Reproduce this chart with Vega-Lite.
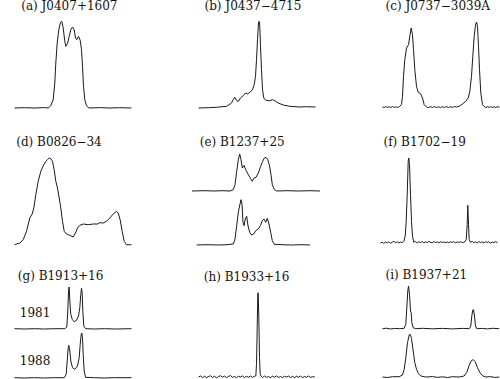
{
"$schema": "https://vega.github.io/schema/vega-lite/v6.json",
"padding": {"left": 12.5, "top": 0, "right": 0, "bottom": 0},
"background": "white",
"spacing": 26,
"config": {
  "view": {"stroke": null},
  "title": {"font": "DejaVu Serif", "fontSize": 12, "fontWeight": "normal", "anchor": "start", "color": "#111", "offset": 2, "baseline": "alphabetic"},
  "line": {"color": "#1a1a1a", "strokeWidth": 1}
},
"datasets": {
  "a": [{"phase":0,"flux":0},{"phase":10,"flux":0.3},{"phase":20,"flux":0},{"phase":30,"flux":0.4},{"phase":33.7,"flux":0},{"phase":36.3,"flux":2.3},{"phase":38.7,"flux":8.3},{"phase":40.3,"flux":25},{"phase":41.3,"flux":45},{"phase":42.7,"flux":65},{"phase":44.3,"flux":78.3},{"phase":46,"flux":85.7},{"phase":47.3,"flux":86.7},{"phase":48.7,"flux":80},{"phase":50.3,"flux":66.7},{"phase":51.3,"flux":61.7},{"phase":53,"flux":64.3},{"phase":54.7,"flux":71.7},{"phase":56.3,"flux":78.3},{"phase":58,"flux":81},{"phase":59.7,"flux":78.3},{"phase":61,"flux":70},{"phase":62.3,"flux":68.3},{"phase":64,"flux":71.7},{"phase":65.7,"flux":67.7},{"phase":67,"flux":58.3},{"phase":68,"flux":41.7},{"phase":69,"flux":21.7},{"phase":70.3,"flux":8.3},{"phase":72,"flux":2.3},{"phase":74.3,"flux":0},{"phase":85,"flux":0.4},{"phase":95,"flux":0},{"phase":105,"flux":0.3},{"phase":117,"flux":0}],
  "b": [{"phase":0,"flux":0},{"phase":10,"flux":0.3},{"phase":18,"flux":0.7},{"phase":28,"flux":1.7},{"phase":33,"flux":5},{"phase":34.7,"flux":8.3},{"phase":36.3,"flux":10.7},{"phase":38,"flux":7.7},{"phase":39.7,"flux":6.3},{"phase":42,"flux":10},{"phase":44.7,"flux":12.3},{"phase":47,"flux":15},{"phase":49,"flux":14},{"phase":51.3,"flux":15.7},{"phase":54,"flux":18.3},{"phase":55.7,"flux":23.3},{"phase":57,"flux":31.7},{"phase":58,"flux":48.3},{"phase":59,"flux":68.3},{"phase":60,"flux":85},{"phase":60.7,"flux":86.7},{"phase":61.3,"flux":81.7},{"phase":62,"flux":61.7},{"phase":63,"flux":38.3},{"phase":64,"flux":18.3},{"phase":65.3,"flux":10},{"phase":67.3,"flux":7.7},{"phase":71.3,"flux":7.3},{"phase":74,"flux":8.3},{"phase":76.3,"flux":7.3},{"phase":79.7,"flux":5},{"phase":84.7,"flux":3},{"phase":91.3,"flux":1.7},{"phase":101.3,"flux":1},{"phase":108,"flux":1.3},{"phase":117,"flux":1}],
  "c": [{"phase":0,"flux":1},{"phase":1.7,"flux":0.5},{"phase":3.3,"flux":1.4},{"phase":5,"flux":0.6},{"phase":6.7,"flux":1.3},{"phase":8.3,"flux":0.4},{"phase":10,"flux":1.5},{"phase":11.7,"flux":0.6},{"phase":13.3,"flux":1.2},{"phase":15,"flux":0.5},{"phase":16.7,"flux":1.3},{"phase":19,"flux":3.3},{"phase":20,"flux":11.7},{"phase":21,"flux":31.7},{"phase":22.3,"flux":48.3},{"phase":24,"flux":60},{"phase":26,"flux":63.3},{"phase":27.3,"flux":71.7},{"phase":28.7,"flux":80},{"phase":30,"flux":73.3},{"phase":31,"flux":58.3},{"phase":32.3,"flux":38.3},{"phase":34,"flux":21.7},{"phase":35.7,"flux":15.7},{"phase":38,"flux":14.3},{"phase":40,"flux":10},{"phase":41.7,"flux":3.3},{"phase":44,"flux":1},{"phase":46,"flux":0.4},{"phase":48,"flux":1.3},{"phase":50,"flux":0.6},{"phase":52,"flux":1.4},{"phase":54,"flux":0.5},{"phase":56,"flux":1.2},{"phase":58,"flux":0.4},{"phase":60,"flux":1.3},{"phase":62,"flux":0.6},{"phase":64,"flux":1.4},{"phase":66,"flux":0.5},{"phase":68,"flux":1.2},{"phase":70,"flux":0.6},{"phase":72,"flux":1.5},{"phase":74,"flux":1},{"phase":76.7,"flux":1.7},{"phase":80,"flux":4},{"phase":83.3,"flux":6.7},{"phase":85.7,"flux":10},{"phase":87.3,"flux":16.7},{"phase":89,"flux":31.7},{"phase":90.3,"flux":51.7},{"phase":91.7,"flux":71.7},{"phase":93,"flux":83.3},{"phase":94,"flux":86},{"phase":95,"flux":81.7},{"phase":96,"flux":61.7},{"phase":97,"flux":38.3},{"phase":98.3,"flux":15},{"phase":100,"flux":3.3},{"phase":101.7,"flux":1.4},{"phase":103.3,"flux":0.5},{"phase":105,"flux":1.3},{"phase":106.7,"flux":0.6},{"phase":108.3,"flux":1.4},{"phase":110,"flux":0.5},{"phase":111.7,"flux":1.2},{"phase":113.3,"flux":0.4},{"phase":115,"flux":1.3},{"phase":117,"flux":0.8}],
  "d": [{"phase":0,"flux":0.3},{"phase":5.3,"flux":2},{"phase":8.7,"flux":5.3},{"phase":12,"flux":13.7},{"phase":15.3,"flux":27},{"phase":17.7,"flux":31},{"phase":19.3,"flux":37},{"phase":21.3,"flux":50.3},{"phase":23.7,"flux":63.7},{"phase":26.3,"flux":73.7},{"phase":29.3,"flux":80.3},{"phase":31.3,"flux":83.7},{"phase":33,"flux":85.3},{"phase":34.7,"flux":87},{"phase":36.3,"flux":86.3},{"phase":38,"flux":83.7},{"phase":39.7,"flux":75.3},{"phase":41.3,"flux":63.7},{"phase":43,"flux":57},{"phase":44.7,"flux":47},{"phase":46.3,"flux":37},{"phase":48,"flux":23.7},{"phase":49.7,"flux":13.7},{"phase":52,"flux":11},{"phase":55.3,"flux":9.7},{"phase":58.7,"flux":8},{"phase":61,"flux":12},{"phase":63,"flux":17},{"phase":65.3,"flux":19.7},{"phase":68.7,"flux":21},{"phase":73.7,"flux":20.3},{"phase":78.7,"flux":21},{"phase":83,"flux":21},{"phase":85.3,"flux":22.3},{"phase":88.7,"flux":22},{"phase":92,"flux":23.7},{"phase":95.3,"flux":27},{"phase":98.7,"flux":31},{"phase":102,"flux":33.7},{"phase":103.7,"flux":32},{"phase":105.7,"flux":25},{"phase":107.7,"flux":13.7},{"phase":109.7,"flux":3.7},{"phase":112,"flux":0.3},{"phase":117,"flux":0.3}],
  "e1": [{"phase":0,"flux":0},{"phase":12,"flux":0.3},{"phase":23,"flux":0},{"phase":30,"flux":0.3},{"phase":38,"flux":0},{"phase":41.3,"flux":1.3},{"phase":43,"flux":6.3},{"phase":44.7,"flux":19.7},{"phase":46.3,"flux":31.3},{"phase":47.7,"flux":37},{"phase":49,"flux":31.3},{"phase":50.3,"flux":23},{"phase":52,"flux":25.7},{"phase":53.7,"flux":21.3},{"phase":56.3,"flux":16.3},{"phase":58.7,"flux":12.3},{"phase":60.3,"flux":9.7},{"phase":62,"flux":13},{"phase":64,"flux":13.7},{"phase":66.3,"flux":18},{"phase":68.7,"flux":24.7},{"phase":70.7,"flux":29.7},{"phase":72.3,"flux":33},{"phase":74,"flux":33.7},{"phase":75.7,"flux":31.3},{"phase":77.3,"flux":26.3},{"phase":79,"flux":16.3},{"phase":80.3,"flux":6.3},{"phase":82.3,"flux":1.3},{"phase":84.7,"flux":0},{"phase":95,"flux":0.3},{"phase":106.3,"flux":0},{"phase":118,"flux":0.3},{"phase":128,"flux":0}],
  "e2": [{"phase":4.7,"flux":0},{"phase":15,"flux":0.3},{"phase":26.3,"flux":0},{"phase":35,"flux":0.3},{"phase":41.3,"flux":1},{"phase":43,"flux":6},{"phase":44.7,"flux":19.3},{"phase":46.3,"flux":32.7},{"phase":48,"flux":41},{"phase":49,"flux":45.3},{"phase":50,"flux":41},{"phase":51,"flux":22.7},{"phase":52,"flux":19.3},{"phase":53.3,"flux":26},{"phase":54.7,"flux":28.7},{"phase":56,"flux":19.3},{"phase":57.7,"flux":12.7},{"phase":59.7,"flux":10},{"phase":61.7,"flux":11},{"phase":63.7,"flux":14.3},{"phase":66.3,"flux":16},{"phase":68.3,"flux":19.3},{"phase":70.3,"flux":24.3},{"phase":72,"flux":26},{"phase":73.7,"flux":22.7},{"phase":75.3,"flux":26.7},{"phase":77,"flux":21},{"phase":78.7,"flux":12.7},{"phase":80.3,"flux":4.3},{"phase":82.3,"flux":0.7},{"phase":90,"flux":0.3},{"phase":99.7,"flux":0},{"phase":110,"flux":0.3},{"phase":118,"flux":0}],
  "f": [{"phase":0,"flux":2},{"phase":1.7,"flux":2.8},{"phase":3.3,"flux":1.6},{"phase":5,"flux":3.1},{"phase":6.7,"flux":2},{"phase":8.3,"flux":3.4},{"phase":10,"flux":1.7},{"phase":11.7,"flux":2.8},{"phase":13.3,"flux":3.7},{"phase":15,"flux":2.3},{"phase":16.7,"flux":3.3},{"phase":18.3,"flux":2},{"phase":20,"flux":3},{"phase":21.7,"flux":2.3},{"phase":23.3,"flux":3.7},{"phase":24.7,"flux":8.7},{"phase":25.7,"flux":23.7},{"phase":26.7,"flux":50},{"phase":27.7,"flux":83.7},{"phase":28.3,"flux":87},{"phase":29,"flux":80.3},{"phase":30,"flux":50.3},{"phase":31,"flux":23.7},{"phase":32,"flux":8.7},{"phase":33.3,"flux":2.7},{"phase":35,"flux":3.7},{"phase":36.7,"flux":2},{"phase":38.3,"flux":3.3},{"phase":40,"flux":2.4},{"phase":41.7,"flux":3.5},{"phase":43.3,"flux":2.1},{"phase":45,"flux":3.2},{"phase":46.7,"flux":2.5},{"phase":48.3,"flux":3.6},{"phase":50,"flux":2.7},{"phase":51.7,"flux":2.2},{"phase":53.3,"flux":3.4},{"phase":55,"flux":2.6},{"phase":56.7,"flux":3.1},{"phase":58.3,"flux":2.2},{"phase":60,"flux":3.3},{"phase":61.7,"flux":2.6},{"phase":63.3,"flux":3},{"phase":65,"flux":2.3},{"phase":66.7,"flux":3},{"phase":68.3,"flux":2.4},{"phase":70,"flux":3.2},{"phase":71.7,"flux":2.6},{"phase":73.3,"flux":3.4},{"phase":75,"flux":2.2},{"phase":76.7,"flux":3.1},{"phase":78.3,"flux":2.5},{"phase":80,"flux":3.3},{"phase":81.7,"flux":2.4},{"phase":83.3,"flux":2.7},{"phase":84.7,"flux":3.5},{"phase":85.7,"flux":5.3},{"phase":86.7,"flux":20.3},{"phase":87.3,"flux":39.7},{"phase":88,"flux":20.3},{"phase":88.7,"flux":5.3},{"phase":90,"flux":2.7},{"phase":91.7,"flux":3.6},{"phase":93.3,"flux":2.3},{"phase":95,"flux":3.2},{"phase":96.7,"flux":1.9},{"phase":98.3,"flux":3.5},{"phase":100,"flux":2.4},{"phase":101.7,"flux":3.1},{"phase":103.3,"flux":2},{"phase":105,"flux":3.4},{"phase":106.7,"flux":2.5},{"phase":108.3,"flux":3.3},{"phase":110,"flux":1.8},{"phase":111.7,"flux":3},{"phase":113.3,"flux":2.4},{"phase":115,"flux":3.3},{"phase":117,"flux":2.5}],
  "g1": [{"phase":0,"flux":0.3},{"phase":10,"flux":0},{"phase":20,"flux":0.3},{"phase":30,"flux":0},{"phase":40,"flux":0.3},{"phase":50.3,"flux":0.3},{"phase":52.3,"flux":2},{"phase":53.3,"flux":18},{"phase":54,"flux":38},{"phase":54.7,"flux":42},{"phase":55.3,"flux":28},{"phase":56.3,"flux":14.7},{"phase":57.7,"flux":9.7},{"phase":59.7,"flux":7.3},{"phase":62,"flux":8.7},{"phase":64,"flux":13},{"phase":65.3,"flux":21.3},{"phase":66.3,"flux":34.7},{"phase":67,"flux":40.7},{"phase":67.7,"flux":36.3},{"phase":68.3,"flux":18},{"phase":69.3,"flux":3},{"phase":71,"flux":0.3},{"phase":80,"flux":0},{"phase":90,"flux":0.3},{"phase":100,"flux":0},{"phase":117,"flux":0.3}],
  "g2": [{"phase":0,"flux":0.3},{"phase":10,"flux":0},{"phase":20,"flux":0.3},{"phase":30,"flux":0},{"phase":40,"flux":0.3},{"phase":49.7,"flux":0.3},{"phase":51.7,"flux":3.7},{"phase":52.7,"flux":17},{"phase":53.7,"flux":30.3},{"phase":54.3,"flux":32.7},{"phase":55.3,"flux":27},{"phase":56.3,"flux":17},{"phase":58,"flux":10.3},{"phase":60.3,"flux":8.7},{"phase":63,"flux":12},{"phase":64.7,"flux":20.3},{"phase":65.7,"flux":33.7},{"phase":66.7,"flux":43.7},{"phase":67.3,"flux":45},{"phase":68,"flux":40.3},{"phase":68.7,"flux":23.7},{"phase":69.7,"flux":7},{"phase":71,"flux":0.7},{"phase":80,"flux":0.3},{"phase":90,"flux":0},{"phase":100,"flux":0.3},{"phase":117,"flux":0.3}],
  "h": [{"phase":0,"flux":1},{"phase":2,"flux":2},{"phase":4,"flux":0.5},{"phase":6,"flux":1.8},{"phase":8,"flux":0.3},{"phase":10,"flux":1.5},{"phase":12,"flux":2.2},{"phase":14,"flux":0.6},{"phase":16,"flux":1.7},{"phase":18,"flux":0.2},{"phase":20,"flux":1.4},{"phase":22,"flux":2.3},{"phase":24,"flux":0.8},{"phase":26,"flux":1.9},{"phase":28,"flux":0.4},{"phase":30,"flux":1.6},{"phase":32,"flux":2.4},{"phase":34,"flux":0.7},{"phase":36,"flux":1.5},{"phase":38,"flux":0.3},{"phase":40,"flux":1.8},{"phase":42,"flux":0.9},{"phase":44,"flux":2.1},{"phase":46,"flux":0.5},{"phase":48,"flux":1.6},{"phase":50,"flux":0.8},{"phase":52,"flux":2},{"phase":54,"flux":0.6},{"phase":56,"flux":1.7},{"phase":57.3,"flux":2},{"phase":58,"flux":13.7},{"phase":58.7,"flux":50.3},{"phase":59.3,"flux":83.7},{"phase":59.7,"flux":85.3},{"phase":60.3,"flux":60.3},{"phase":61,"flux":20.3},{"phase":61.7,"flux":3.7},{"phase":62.7,"flux":1.7},{"phase":64,"flux":0.5},{"phase":66,"flux":1.9},{"phase":68,"flux":0.7},{"phase":70,"flux":1.4},{"phase":72,"flux":0.3},{"phase":74,"flux":1.8},{"phase":76,"flux":0.8},{"phase":78,"flux":2.1},{"phase":80,"flux":0.6},{"phase":82,"flux":1.5},{"phase":84,"flux":0.4},{"phase":86,"flux":1.7},{"phase":88,"flux":0.9},{"phase":90,"flux":2},{"phase":92,"flux":0.5},{"phase":94,"flux":1.6},{"phase":96,"flux":0.3},{"phase":98,"flux":1.8},{"phase":100,"flux":0.8},{"phase":102,"flux":1.9},{"phase":104,"flux":0.4},{"phase":106,"flux":1.5},{"phase":108,"flux":0.7},{"phase":110,"flux":2},{"phase":112,"flux":0.6},{"phase":114,"flux":1.4},{"phase":116.3,"flux":0.9}],
  "i1": [{"phase":0,"flux":0.3},{"phase":4,"flux":0.8},{"phase":8,"flux":0},{"phase":12,"flux":0.6},{"phase":16.7,"flux":0.3},{"phase":21.7,"flux":0.7},{"phase":23.3,"flux":4.7},{"phase":24.3,"flux":21.3},{"phase":25.3,"flux":38},{"phase":26,"flux":43},{"phase":27,"flux":34.7},{"phase":28,"flux":18},{"phase":28.7,"flux":16.3},{"phase":29.3,"flux":6.3},{"phase":30.7,"flux":1.3},{"phase":33.3,"flux":0.3},{"phase":40,"flux":0.7},{"phase":50,"flux":0.2},{"phase":60,"flux":0.6},{"phase":70,"flux":0.1},{"phase":80,"flux":0.6},{"phase":86.7,"flux":0.3},{"phase":88.3,"flux":3},{"phase":89.3,"flux":13},{"phase":90.3,"flux":19},{"phase":91,"flux":19.3},{"phase":92,"flux":13},{"phase":93,"flux":3},{"phase":94.3,"flux":0.3},{"phase":100,"flux":0.6},{"phase":105,"flux":0.1},{"phase":110,"flux":0.7},{"phase":116.7,"flux":0.3}],
  "i2": [{"phase":0,"flux":1},{"phase":5,"flux":0.5},{"phase":10,"flux":1.3},{"phase":16.7,"flux":1.3},{"phase":20,"flux":3},{"phase":21.7,"flux":8.7},{"phase":23.3,"flux":20.3},{"phase":25,"flux":35.3},{"phase":26.7,"flux":43},{"phase":27.7,"flux":43.7},{"phase":29,"flux":39.7},{"phase":30.7,"flux":27},{"phase":32.3,"flux":15.3},{"phase":34,"flux":8.7},{"phase":36,"flux":4.3},{"phase":38.3,"flux":2},{"phase":43.3,"flux":1},{"phase":50,"flux":1.4},{"phase":55,"flux":0.6},{"phase":60,"flux":1.2},{"phase":65,"flux":0.5},{"phase":70,"flux":1.3},{"phase":76.7,"flux":1},{"phase":81.7,"flux":2},{"phase":84.3,"flux":5.7},{"phase":86.7,"flux":12.7},{"phase":89,"flux":17.7},{"phase":90.7,"flux":18.3},{"phase":92.7,"flux":16.3},{"phase":95,"flux":10.3},{"phase":97.3,"flux":5.7},{"phase":100,"flux":2.3},{"phase":103.3,"flux":1},{"phase":108,"flux":1.4},{"phase":112,"flux":0.6},{"phase":116.7,"flux":1}]
},
"vconcat": [
  {"hconcat": [
    {"data": {"name": "a"}, "width": 117, "height": 95, "title": {"text": "(a) J0407+1607", "dx": 8.7},
     "mark": "line",
     "encoding": {"x": {"field": "phase", "type": "quantitative", "axis": null, "scale": {"domain": [0, 117], "nice": false, "zero": false}},
                  "y": {"field": "flux", "type": "quantitative", "axis": null, "scale": {"domain": [-2, 93], "nice": false, "zero": false}}}},
    {"data": {"name": "b"}, "width": 117, "height": 95, "title": {"text": "(b) J0437−4715", "dx": 8},
     "mark": "line",
     "encoding": {"x": {"field": "phase", "type": "quantitative", "axis": null, "scale": {"domain": [0, 117], "nice": false, "zero": false}},
                  "y": {"field": "flux", "type": "quantitative", "axis": null, "scale": {"domain": [-2, 93], "nice": false, "zero": false}}}},
    {"data": {"name": "c"}, "width": 117, "height": 95, "title": {"text": "(c) J0737−3039A", "dx": 5},
     "mark": "line",
     "encoding": {"x": {"field": "phase", "type": "quantitative", "axis": null, "scale": {"domain": [0, 117], "nice": false, "zero": false}},
                  "y": {"field": "flux", "type": "quantitative", "axis": null, "scale": {"domain": [-2, 93], "nice": false, "zero": false}}}}
  ], "spacing": 63},
  {"vconcat": [
  {"hconcat": [
    {"data": {"name": "d"}, "width": 119, "height": 96, "title": {"text": "(d) B0826−34", "dx": 3.7},
     "mark": "line",
     "encoding": {"x": {"field": "phase", "type": "quantitative", "axis": null, "scale": {"domain": [0, 119], "nice": false, "zero": false}},
                  "y": {"field": "flux", "type": "quantitative", "axis": null, "scale": {"domain": [-2, 94], "nice": false, "zero": false}}}},
    {"vconcat": [
      {"data": {"name": "e1"}, "width": 128, "height": 42, "title": {"text": "(e) B1237+25", "dx": 9.7},
       "mark": "line",
       "encoding": {"x": {"field": "phase", "type": "quantitative", "axis": null, "scale": {"domain": [0, 128], "nice": false, "zero": false}},
                    "y": {"field": "flux", "type": "quantitative", "axis": null, "scale": {"domain": [-2, 40], "nice": false, "zero": false}}}},
      {"data": {"name": "e2"}, "width": 128, "height": 49,
       "mark": "line",
       "encoding": {"x": {"field": "phase", "type": "quantitative", "axis": null, "scale": {"domain": [0, 128], "nice": false, "zero": false}},
                    "y": {"field": "flux", "type": "quantitative", "axis": null, "scale": {"domain": [-2, 47], "nice": false, "zero": false}}}}
    ], "spacing": 4},
    {"data": {"name": "f"}, "width": 117, "height": 96, "title": {"text": "(f) B1702−19", "dx": 5},
     "mark": "line",
     "encoding": {"x": {"field": "phase", "type": "quantitative", "axis": null, "scale": {"domain": [0, 117], "nice": false, "zero": false}},
                  "y": {"field": "flux", "type": "quantitative", "axis": null, "scale": {"domain": [-2, 94], "nice": false, "zero": false}}}}
  ], "spacing": 56.5},
  {"hconcat": [
    {"vconcat": [
      {"width": 117, "height": 45, "title": {"text": "(g) B1913+16", "dx": 5.3},
       "layer": [
         {"data": {"name": "g1"}, "mark": "line",
          "encoding": {"x": {"field": "phase", "type": "quantitative", "axis": null, "scale": {"domain": [0, 117], "nice": false, "zero": false}},
                       "y": {"field": "flux", "type": "quantitative", "axis": null, "scale": {"domain": [-2, 43], "nice": false, "zero": false}}}},
         {"data": {"values": [{"year": "1981"}]}, "mark": {"type": "text", "font": "DejaVu Serif", "fontSize": 12, "align": "left", "baseline": "middle", "color": "#111"},
          "encoding": {"text": {"field": "year"}, "x": {"datum": 5.3, "type": "quantitative"}, "y": {"datum": 16.3, "type": "quantitative"}}}
       ]},
      {"width": 117, "height": 49,
       "layer": [
         {"data": {"name": "g2"}, "mark": "line",
          "encoding": {"x": {"field": "phase", "type": "quantitative", "axis": null, "scale": {"domain": [0, 117], "nice": false, "zero": false}},
                       "y": {"field": "flux", "type": "quantitative", "axis": null, "scale": {"domain": [-2, 47], "nice": false, "zero": false}}}},
         {"data": {"values": [{"year": "1988"}]}, "mark": {"type": "text", "font": "DejaVu Serif", "fontSize": 12, "align": "left", "baseline": "middle", "color": "#111"},
          "encoding": {"text": {"field": "year"}, "x": {"datum": 5.3, "type": "quantitative"}, "y": {"datum": 17, "type": "quantitative"}}}
       ]}
    ], "spacing": 0},
    {"data": {"name": "h"}, "width": 117, "height": 94, "title": {"text": "(h) B1933+16", "dx": 7.3},
     "mark": "line",
     "encoding": {"x": {"field": "phase", "type": "quantitative", "axis": null, "scale": {"domain": [0, 117], "nice": false, "zero": false}},
                  "y": {"field": "flux", "type": "quantitative", "axis": null, "scale": {"domain": [-2, 92], "nice": false, "zero": false}}}},
    {"vconcat": [
      {"data": {"name": "i1"}, "width": 117, "height": 45, "title": {"text": "(i) B1937+21", "dx": 5},
       "mark": "line",
       "encoding": {"x": {"field": "phase", "type": "quantitative", "axis": null, "scale": {"domain": [0, 117], "nice": false, "zero": false}},
                    "y": {"field": "flux", "type": "quantitative", "axis": null, "scale": {"domain": [-2, 43], "nice": false, "zero": false}}}},
      {"data": {"name": "i2"}, "width": 117, "height": 49,
       "mark": "line",
       "encoding": {"x": {"field": "phase", "type": "quantitative", "axis": null, "scale": {"domain": [0, 117], "nice": false, "zero": false}},
                    "y": {"field": "flux", "type": "quantitative", "axis": null, "scale": {"domain": [-2, 47], "nice": false, "zero": false}}}}
    ], "spacing": 0}
  ], "spacing": 63}
  ], "spacing": 22}
]
}
